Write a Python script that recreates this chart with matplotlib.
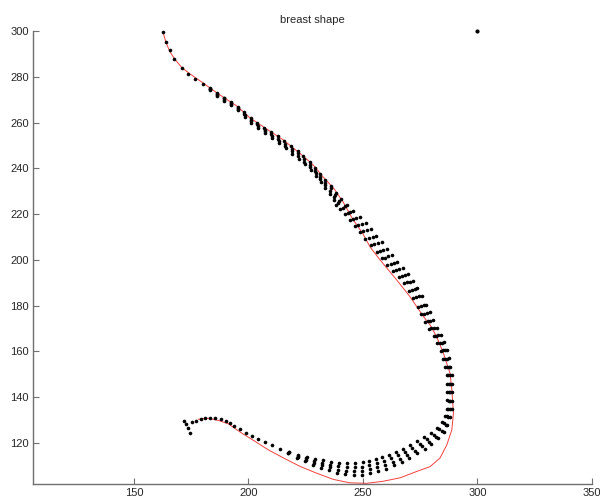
import numpy as np
import matplotlib
matplotlib.use("Agg")
import matplotlib.pyplot as plt

plt.rcParams['font.family'] = ['Liberation Sans', 'DejaVu Sans']

# red reference contour
red_x = [162.6, 164.0, 165.7, 167.9, 170.8, 174.5, 180.3, 186.1, 194.9, 200.7,
         206.5, 215.2, 223.8, 228.2, 232.6, 237.4, 241.3, 245.2, 250.0, 253.1,
         257.4, 264.7, 270.5, 276.4, 279.3, 282.2, 285.1, 288.0, 288.8, 289.5,
         288.8, 286.6, 283.6, 279.3, 273.5, 266.2, 258.8, 251.6, 244.3, 237.1,
         229.8, 222.5, 216.0, 208.7, 202.9, 197.1, 191.2, 186.8, 182.5, 178.1]
red_y = [299.7, 294.9, 290.9, 287.6, 284.1, 281.2, 277.2, 273.0, 267.2, 262.0,
         258.1, 252.4, 245.4, 241.5, 236.2, 231.0, 225.3, 218.3, 211.3, 205.6,
         200.0, 191.2, 183.9, 175.2, 171.5, 166.3, 159.2, 150.4, 143.1, 133.0,
         125.7, 119.1, 113.3, 109.6, 107.5, 104.7, 103.2, 102.3, 102.5, 104.0,
         106.7, 109.7, 113.0, 116.9, 120.6, 124.2, 128.3, 129.8, 130.7, 130.3]

# dotted shapes: common start, four shapes that drift apart, common end
head_x = [162.7, 164.0, 165.7, 167.5, 171.0, 173.6, 176.7, 180.1]
head_y = [299.6, 295.2, 291.7, 287.8, 283.8, 281.2, 279.0, 276.8]

shape1_x = [183.2, 186.3, 189.3, 192.4, 195.2, 198.1, 200.9, 203.7, 206.8, 209.8,
            212.9, 215.7, 218.6, 221.4, 224.0, 226.7, 229.1, 231.2, 233.4, 236.0,
            238.2, 240.4, 243.1, 245.8, 248.5, 251.1, 253.4, 255.8, 258.1, 260.4,
            262.5, 264.9, 267.3, 269.7, 271.9, 273.8, 275.7, 277.7, 279.1, 280.6,
            282.1, 283.9, 285.4, 286.7, 287.4, 288.2, 288.7, 288.9, 288.9, 288.9,
            288.7, 288.0, 286.9, 285.2, 282.8, 279.9, 276.9, 273.6, 270.3, 267.1,
            263.6, 260.1, 256.6, 253.1, 249.6, 245.9, 242.2, 238.7, 235.2, 231.7,
            228.2, 224.7, 221.2, 217.3]
shape1_y = [275.1, 272.9, 270.9, 269.0, 267.0, 264.6, 262.0, 260.0, 257.8, 255.9,
            253.9, 251.9, 249.7, 247.6, 245.2, 242.8, 240.1, 237.5, 234.9, 232.3,
            229.4, 226.6, 224.0, 221.4, 218.9, 216.2, 213.3, 210.4, 207.6, 204.7,
            201.9, 199.1, 196.4, 193.6, 190.8, 187.5, 184.3, 180.4, 177.0, 173.6,
            170.4, 167.2, 163.9, 160.6, 156.9, 153.2, 149.5, 145.8, 142.0, 138.3,
            134.6, 131.1, 127.6, 124.6, 121.9, 119.5, 117.4, 115.4, 113.4, 111.7,
            110.1, 108.6, 107.5, 106.6, 106.0, 105.8, 106.2, 106.9, 108.0, 109.0,
            110.4, 111.9, 113.4, 115.4]

shape2_x = [183.2, 186.3, 189.3, 192.4, 195.2, 198.2, 201.0, 203.8, 207.0, 210.0,
            213.1, 215.9, 218.8, 221.6, 224.2, 226.9, 229.2, 231.3, 233.4, 235.9,
            237.9, 239.7, 242.1, 244.5, 247.1, 249.6, 251.8, 254.2, 256.6, 258.9,
            261.1, 263.5, 265.9, 268.4, 270.6, 272.5, 274.4, 276.5, 277.9, 279.4,
            281.0, 282.9, 284.4, 285.8, 286.6, 287.4, 288.0, 288.2, 288.2, 288.2,
            288.0, 287.3, 286.1, 284.3, 281.8, 278.8, 275.8, 272.5, 269.3, 266.2,
            262.9, 259.6, 256.3, 253.0, 249.7, 246.1, 242.5, 239.0, 235.5, 232.0,
            228.5, 225.0, 221.4, 217.4]
shape2_y = [274.8, 272.5, 270.5, 268.5, 266.4, 263.9, 261.3, 259.2, 256.9, 255.0,
            252.9, 250.8, 248.6, 246.5, 244.0, 241.6, 238.9, 236.3, 233.7, 231.2,
            228.4, 225.7, 223.3, 220.9, 218.4, 215.8, 212.9, 210.0, 207.2, 204.3,
            201.5, 198.7, 196.0, 193.2, 190.4, 187.2, 184.0, 180.1, 176.7, 173.4,
            170.2, 167.0, 163.8, 160.5, 156.8, 153.2, 149.5, 145.8, 142.0, 138.4,
            134.7, 131.4, 128.0, 125.2, 122.7, 120.5, 118.5, 116.6, 114.7, 113.1,
            111.6, 110.3, 109.3, 108.4, 107.8, 107.5, 107.8, 108.3, 109.3, 110.1,
            111.3, 112.6, 113.8, 115.6]

shape3_x = [183.2, 186.3, 189.3, 192.4, 195.2, 198.4, 201.2, 204.0, 207.1, 210.1,
            213.2, 216.0, 218.9, 221.7, 224.3, 227.0, 229.4, 231.4, 233.5, 235.8,
            237.5, 239.1, 241.1, 243.3, 245.6, 248.0, 250.2, 252.6, 255.0, 257.5,
            259.6, 262.1, 264.6, 267.0, 269.2, 271.2, 273.2, 275.2, 276.7, 278.3,
            279.9, 281.8, 283.5, 284.9, 285.7, 286.7, 287.2, 287.5, 287.5, 287.5,
            287.3, 286.6, 285.4, 283.4, 280.8, 277.8, 274.7, 271.5, 268.3, 265.3,
            262.1, 259.0, 255.9, 252.8, 249.7, 246.4, 242.8, 239.3, 235.8, 232.3,
            228.8, 225.2, 221.6, 217.5]
shape3_y = [274.5, 272.2, 270.0, 268.0, 265.9, 263.3, 260.5, 258.4, 256.1, 254.0,
            251.9, 249.8, 247.5, 245.3, 242.9, 240.5, 237.8, 235.2, 232.6, 230.0,
            227.3, 224.9, 222.7, 220.3, 218.0, 215.3, 212.4, 209.5, 206.7, 203.8,
            201.0, 198.3, 195.6, 192.8, 190.1, 186.8, 183.6, 179.8, 176.5, 173.1,
            170.0, 166.9, 163.6, 160.4, 156.8, 153.1, 149.5, 145.8, 142.0, 138.4,
            134.9, 131.6, 128.5, 125.9, 123.6, 121.5, 119.7, 117.9, 116.1, 114.6,
            113.2, 111.9, 111.0, 110.2, 109.6, 109.3, 109.4, 109.8, 110.5, 111.2,
            112.2, 113.2, 114.3, 115.8]

shape4_x = [183.2, 186.3, 189.3, 192.4, 195.2, 198.5, 201.3, 204.1, 207.3, 210.3,
            213.4, 216.2, 219.1, 221.9, 224.5, 227.2, 229.5, 231.5, 233.5, 235.7,
            237.2, 238.4, 240.1, 242.0, 244.2, 246.5, 248.6, 251.0, 253.5, 256.0,
            258.2, 260.7, 263.2, 265.7, 267.9, 269.9, 271.9, 274.0, 275.5, 277.1,
            278.8, 280.8, 282.5, 284.0, 284.9, 285.9, 286.5, 286.8, 286.8, 286.8,
            286.6, 285.9, 284.6, 282.5, 279.8, 276.7, 273.6, 270.4, 267.3, 264.4,
            261.4, 258.5, 255.6, 252.7, 249.8, 246.6, 243.1, 239.6, 236.1, 232.6,
            229.1, 225.5, 221.8, 217.6]
shape4_y = [274.2, 271.8, 269.6, 267.5, 265.3, 262.6, 259.8, 257.6, 255.2, 253.1,
            250.9, 248.7, 246.4, 244.2, 241.7, 239.3, 236.6, 234.0, 231.4, 228.9,
            226.3, 224.0, 222.0, 219.8, 217.5, 214.9, 212.0, 209.1, 206.3, 203.4,
            200.6, 197.9, 195.2, 192.4, 189.7, 186.5, 183.3, 179.5, 176.2, 172.9,
            169.8, 166.7, 163.5, 160.3, 156.7, 153.1, 149.5, 145.8, 142.0, 138.5,
            135.0, 131.9, 128.9, 126.5, 124.4, 122.5, 120.8, 119.1, 117.4, 116.0,
            114.7, 113.6, 112.8, 112.0, 111.4, 111.0, 111.0, 111.2, 111.8, 112.3,
            113.1, 113.9, 114.7, 116.0]

tail_x = [213.8, 210.3, 207.2, 204.3, 201.4, 198.8, 196.3, 193.8, 191.9, 190.1,
          188.0, 185.4, 183.2, 181.0, 179.3, 177.0, 175.2, 172.0, 172.7, 173.6, 174.5]
tail_y = [117.4, 118.9, 120.2, 121.6, 123.0, 124.2, 125.9, 127.5, 128.6, 129.7,
          130.3, 130.8, 131.0, 130.8, 130.5, 129.7, 129.3, 129.7, 128.1, 126.4, 124.4]

# lone point in the upper right
extra_x = [300.0]
extra_y = [300.0]

fig = plt.figure(figsize=(6, 5), dpi=100)
ax = fig.add_axes([33/600, 16/500, 559/600, 453/500])

ax.plot(red_x, red_y, color='#f24040', lw=0.7, clip_on=False)

dots = [(head_x, head_y), (shape1_x, shape1_y), (shape2_x, shape2_y),
        (shape3_x, shape3_y), (shape4_x, shape4_y), (tail_x, tail_y)]
for xs, ys in dots:
    ax.plot(xs, ys, 'o', color='black', ms=2.6, mew=0, ls='none', clip_on=False)
ax.plot(extra_x, extra_y, 'o', color='black', ms=3.0, mew=0, clip_on=False)

ax.set_xlim(105.9, 350)
ax.set_ylim(102.0, 300)
ax.set_xticks([150, 200, 250, 300, 350])
ax.set_yticks(np.arange(120, 301, 20))
ax.spines['top'].set_visible(False)
ax.spines['right'].set_visible(False)
for s in ['left', 'bottom']:
    ax.spines[s].set_color('#707070')
    ax.spines[s].set_linewidth(1.0)
ax.tick_params(direction='in', length=4, width=0.8, color='#707070',
               labelsize=8, labelcolor='#262626', pad=3)
ax.set_title('breast shape', fontsize=8, color='#262626', pad=6)

fig.savefig('out.png', dpi=100)
